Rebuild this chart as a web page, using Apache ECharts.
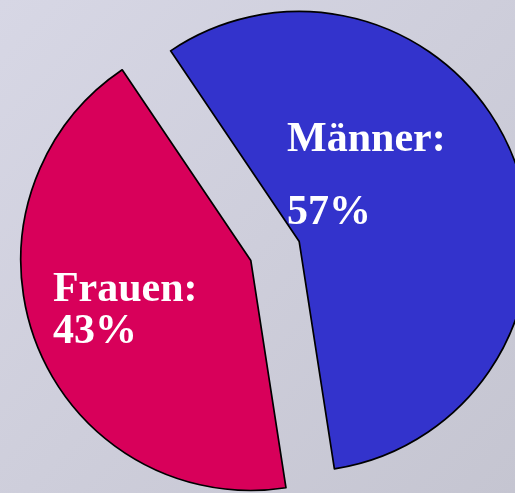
<!DOCTYPE html>
<html>
<head>
<meta charset="utf-8">
<script src="https://cdn.jsdelivr.net/npm/echarts@6/dist/echarts.min.js"></script>
<style>
html,body{margin:0;padding:0;width:515px;height:493px;overflow:hidden;}
#c{width:515px;height:493px;}
</style>
</head>
<body>
<div id="c"></div>
<script>
const categories = ['Männer', 'Frauen'];
const shares = [57, 43];
const sliceColors = ['#3333cc', '#d8005a'];
const labelLineHeights = [73, 42];
const labelShift = [[-122, -22], [-88, 8]];

const chart = echarts.init(document.getElementById('c'));
chart.setOption({
  animation: false,
  backgroundColor: {
    type: 'linear', x: 0, y: 0, x2: 1, y2: 1,
    colorStops: [{offset: 0, color: '#d7d7e5'}, {offset: 1, color: '#c5c5d1'}]
  },
  series: [{
    type: 'pie',
    center: [275, 251],
    radius: [0, 230],
    startAngle: 124,
    clockwise: true,
    selectedMode: 'multiple',
    selectedOffset: 26,
    avoidLabelOverlap: false,
    emphasis: {disabled: true},
    itemStyle: {borderColor: '#000', borderWidth: 1.7},
    select: {itemStyle: {borderColor: '#000', borderWidth: 1.7}},
    label: {
      show: true,
      position: 'inside',
      formatter: '{b}:\n{d}%',
      color: '#ffffff',
      fontFamily: 'Liberation Serif',
      fontWeight: 'bold',
      fontSize: 42,
      align: 'left'
    },
    labelLine: {show: false},
    labelLayout: function (p) {
      return {dx: labelShift[p.dataIndex][0], dy: labelShift[p.dataIndex][1], align: 'left'};
    },
    data: categories.map((name, i) => ({
      name: name,
      value: shares[i],
      selected: true,
      itemStyle: {color: sliceColors[i]},
      select: {itemStyle: {color: sliceColors[i]}},
      label: {lineHeight: labelLineHeights[i]}
    }))
  }]
});
</script>
</body>
</html>
